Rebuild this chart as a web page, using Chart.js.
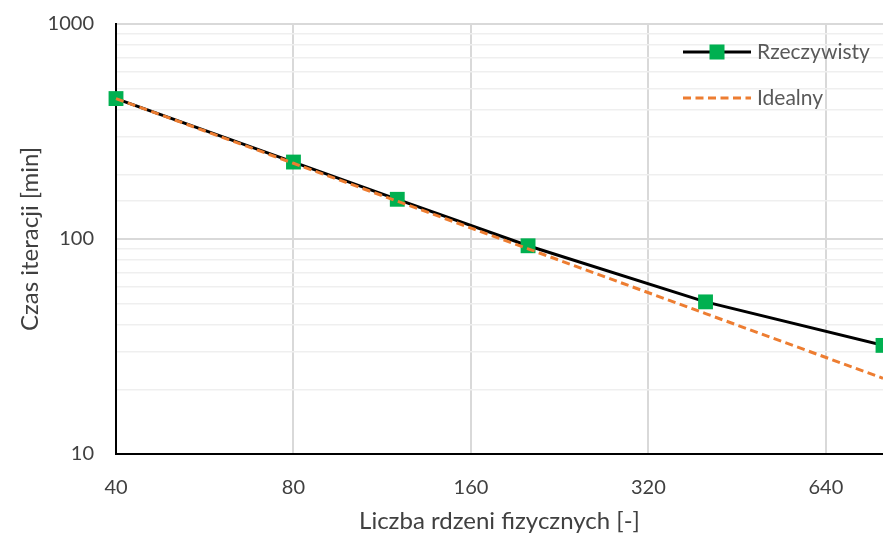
<!DOCTYPE html>
<html><head><meta charset="utf-8">
<script src="https://cdn.jsdelivr.net/npm/chart.js@4/dist/chart.umd.min.js"></script>
<style>html,body{margin:0;padding:0;background:#fff}#wrap{width:883px;height:538px;position:relative}</style>
</head><body><div id="wrap"><canvas id="c" width="883" height="538"></canvas></div>
<script>
const cores = [40, 80, 120, 200, 400, 800];
const actualTime = [450, 228, 153, 93, 51, 32];
const idealTime = [450, 225, 150, 90, 45, 22.5];
const xTicks = [40, 80, 160, 320, 640];
const yLabelTicks = [10, 100, 1000];
const seriesNames = ['Rzeczywisty', 'Idealny'];

const FONT = 'Lato, "Open Sans", sans-serif';
const GREEN = '#00B050', ORANGE = '#ED7D31';

const legendPlugin = {
  id: 'customLegend',
  afterDraw(chart) {
    const ctx = chart.ctx;
    ctx.save();
    let y = 52;
    ctx.strokeStyle = '#000'; ctx.lineWidth = 3; ctx.setLineDash([]);
    ctx.beginPath(); ctx.moveTo(683, y); ctx.lineTo(751, y); ctx.stroke();
    ctx.fillStyle = GREEN; ctx.fillRect(717 - 7.5, y - 7.5, 15, 15);
    ctx.fillStyle = '#595959'; ctx.font = '21px ' + FONT; ctx.textBaseline = 'middle';
    ctx.fillText(seriesNames[0], 757, y);
    y = 98;
    ctx.strokeStyle = ORANGE; ctx.lineWidth = 3; ctx.setLineDash([8, 4.5]);
    ctx.beginPath(); ctx.moveTo(683, y); ctx.lineTo(751, y); ctx.stroke();
    ctx.setLineDash([]);
    ctx.fillText(seriesNames[1], 757, y);
    ctx.restore();
  }
};

new Chart(document.getElementById('c'), {
  type: 'line',
  data: {
    datasets: [
      { label: seriesNames[0], data: cores.map((x, i) => ({x, y: actualTime[i]})),
        borderColor: '#000', borderWidth: 3, pointStyle: 'rect', pointRadius: 10.5,
        pointBackgroundColor: GREEN, pointBorderColor: GREEN, pointBorderWidth: 0,
        order: 2, tension: 0, clip: false },
      { label: seriesNames[1], data: cores.map((x, i) => ({x, y: idealTime[i]})),
        borderColor: ORANGE, borderWidth: 3, borderDash: [8, 4.5], pointRadius: 0,
        order: 1, tension: 0, clip: false }
    ]
  },
  options: {
    responsive: false, animation: false,
    layout: { autoPadding: false, padding: { top: 24, right: 0, left: 0, bottom: 0 } },
    plugins: { legend: { display: false }, tooltip: { enabled: false } },
    scales: {
      x: {
        type: 'logarithmic', min: 40, max: 800,
        afterBuildTicks(s) { s.ticks = xTicks.map(v => ({ value: v })); },
        afterFit(s) { s.height = 84; s.paddingLeft = 0; s.paddingRight = 0; },
        ticks: { color: '#404040', font: { family: FONT, size: 20 }, padding: 22, maxRotation: 0,
          callback: v => String(v) },
        grid: { color: '#d9d9d9', lineWidth: 2, drawTicks: false },
        border: { color: '#000', width: 2 },
        title: { display: true, text: 'Liczba rdzeni fizycznych [-]', color: '#404040',
          font: { family: FONT, size: 24 }, padding: { top: 4, bottom: 2 } }
      },
      y: {
        type: 'logarithmic', min: 10, max: 1000,
        afterFit(s) { s.width = 116; s.paddingTop = 0; s.paddingBottom = 0; },
        ticks: { color: '#404040', font: { family: FONT, size: 20 }, padding: 22, autoSkip: false,
          callback: v => yLabelTicks.includes(v) ? String(v) : '' },
        grid: {
          drawTicks: false,
          color: c => (c.tick && yLabelTicks.includes(c.tick.value)) ? '#d9d9d9' : '#efefef',
          lineWidth: c => (c.tick && yLabelTicks.includes(c.tick.value)) ? 2 : 1.5
        },
        border: { color: '#000', width: 2 },
        title: { display: true, text: 'Czas iteracji [min]', color: '#404040',
          font: { family: FONT, size: 24 }, padding: { top: 16, bottom: 4 } }
      }
    }
  },
  plugins: [legendPlugin]
});
</script></body></html>
